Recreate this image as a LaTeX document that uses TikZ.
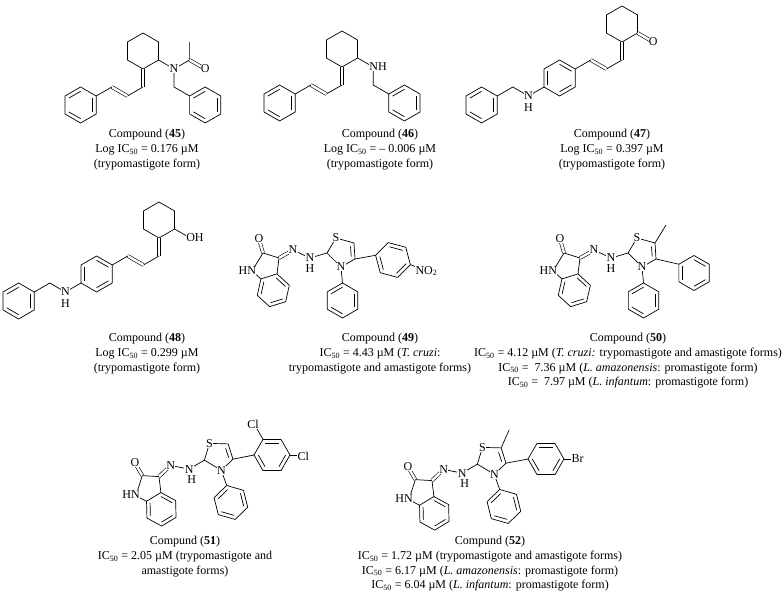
\documentclass[tikz,border=0pt]{standalone}
\usepackage{fontspec}
\setmainfont{Liberation Serif}
\usetikzlibrary{calc}
\tikzset{
  bd/.style={line width=0.7pt, line join=round},
  db/.style={double, double distance=2.4pt, line width=0.6pt},
  atm/.style={fill=white, inner sep=0.3pt, font=\fontsize{12}{12}\selectfont},
  hlab/.style={fill=white, inner sep=0pt, font=\fontsize{12}{12}\selectfont},
  captxt/.style={align=center, font=\fontsize{12}{14.8}\selectfont, inner sep=0, anchor=north},
  core/.pic={
    \coordinate (-o) at (0,0);  \coordinate (-c2) at (4,14);
    \coordinate (-n1) at (-7,32); \coordinate (-c7a) at (2,40);
    \coordinate (-c3a) at (18,35); \coordinate (-c3) at (20,19);
    \coordinate (-na) at (34,11); \coordinate (-nb) at (51,19);
    \coordinate (-ct) at (68,14); \coordinate (-s) at (77,-1);
    \coordinate (-c5) at (95,4); \coordinate (-c4) at (96,20);
    \coordinate (-n3) at (82,28); \coordinate (-ph) at (83.5,44);
    \draw[db] (-c2) -- (-o);
    \draw[bd] (-c2) -- (-n1) -- (-c7a);
    \draw[bd] (-c3a) -- (-c3) -- (-c2);
    \draw[db] (-c3) -- (-na);
    \draw[bd] (-na) -- (-nb) -- (-ct) -- (-s) -- (-c5) -- (-c4) -- (-n3) -- (-ct);
    \draw[bd] (91.5,7.5) -- (92.2,17.5);
    \draw[bd] (-n3) -- (-ph);
    \hexa{14.3}{51.3}{16.8}{42.6}\arom{14.3}{51.3}{16.8}{42.6}{0,2,4}
    \hexa{83.5}{61.5}{17.5}{30}\arom{83.5}{61.5}{17.5}{30}{1,3,5}
    \node[atm] at (-o) {O};
    \node[atm, anchor=east] at ($(-n1)+(4.5,0)$) {HN};
    \node[atm] at (-na) {N};
    \node[atm] at (-nb) {N};
    \node[hlab] at ($(-nb)+(0,11)$) {H};
    \node[atm] at (-s) {S};
    \node[atm] at (-n3) {N};
  }
}
\newcommand\hexa[4]{\draw[bd] ([shift={(#1,#2)}]#4:#3) \foreach \k in {1,...,5}{ -- ([shift={(#1,#2)}]#4+60*\k:#3)} -- cycle;}
\newcommand\arom[5]{\foreach \k in {#5}{\draw[bd] ([shift={(#1,#2)}]#4+60*\k:0.76*#3) -- ([shift={(#1,#2)}]#4+60*\k+60:0.76*#3);}}
\begin{document}
\begin{tikzpicture}[x=1pt,y=-1pt]
\useasboundingbox[fill=white] (0,0) rectangle (784,604);
% ---------- 45
\hexa{143}{51}{18}{30}
\draw[db] (143,69) -- (143,87);
\draw[bd] (143,87) -- (127.4,96);
\draw[db] (127.4,96) -- (111.8,87);
\draw[bd] (111.8,87) -- (96.2,96);
\hexa{80.6}{105}{18}{30}\arom{80.6}{105}{18}{30}{1,3,5}
\coordinate (n45) at (174,69);
\draw[bd] (158.6,60) -- (n45) -- (189.6,60) -- (189.6,42);
\draw[db] (189.6,60) -- (205.2,69);
\draw[bd] (n45) -- (174,87) -- (189.6,96);
\hexa{205.2}{105}{18}{30}\arom{205.2}{105}{18}{30}{1,3,5}
\node[atm] at (n45) {N};
\node[atm] at (205.2,69) {O};
% ---------- 46
\hexa{342}{49}{18}{30}
\draw[db] (342,67) -- (342,85);
\draw[bd] (342,85) -- (326.4,94);
\draw[db] (326.4,94) -- (310.8,85);
\draw[bd] (310.8,85) -- (295.2,94);
\hexa{279.6}{103}{18}{30}\arom{279.6}{103}{18}{30}{1,3,5}
\coordinate (n46) at (373.2,67);
\draw[bd] (357.6,58) -- (n46) -- (373.2,85) -- (388.8,94);
\hexa{404.4}{103}{18}{30}\arom{404.4}{103}{18}{30}{1,3,5}
\node[atm, anchor=west] at ($(n46)+(-4.3,0)$) {NH};
% ---------- 47
\hexa{622}{24}{18}{30}
\draw[db] (637.6,33) -- (653.2,42);
\node[atm] at (653.2,42) {O};
\draw[db] (622,42) -- (622,60);
\draw[bd] (622,60) -- (606.4,69);
\draw[db] (606.4,69) -- (590.8,60);
\draw[bd] (590.8,60) -- (575.2,69);
\hexa{559.6}{78}{18}{30}\arom{559.6}{78}{18}{30}{0,2,4}
\coordinate (n47) at (528.4,96);
\draw[bd] (544,87) -- (n47) -- (512.8,87) -- (497.2,96);
\hexa{481.6}{105}{18}{30}\arom{481.6}{105}{18}{30}{1,3,5}
\node[atm] at (n47) {N};
\node[hlab] at (528.4,107.5) {H};
% ---------- 48
\hexa{159}{220}{18}{30}
\draw[bd] (174.6,229) -- (190.2,238);
\node[atm, anchor=west] at (185.8,238) {OH};
\draw[db] (159,238) -- (159,256);
\draw[bd] (159,256) -- (143.4,265);
\draw[db] (143.4,265) -- (127.8,256);
\draw[bd] (127.8,256) -- (112.2,265);
\hexa{96.6}{274}{18}{30}\arom{96.6}{274}{18}{30}{0,2,4}
\coordinate (n48) at (65.4,292);
\draw[bd] (81,283) -- (n48) -- (49.8,283) -- (34.2,292);
\hexa{18.6}{301}{18}{30}\arom{18.6}{301}{18}{30}{1,3,5}
\node[atm] at (n48) {N};
\node[hlab] at (65.4,303.5) {H};
% ---------- 49
\pic (p49) at (259,239) {core};
\draw[bd] (p49-c4) -- (375.6,255.3);
\hexa{393}{260}{18}{15}\arom{393}{260}{18}{15}{0,2,4}
\draw[bd] (410.4,264.7) -- (419,268);
\node[atm, anchor=west] at (415,271) {NO\textsubscript{2}};
% ---------- 50
\pic (p50) at (560,239) {core};
\draw[bd] (p50-c5) -- ++(11,-18);
\draw[bd] (p50-c4) -- (678.8,264.2);
\hexa{694}{273}{17.5}{30}\arom{694}{273}{17.5}{30}{0,2,4}
% ---------- 51
\pic[rotate=14] (p51) at (135,463) {core};
\draw[bd] (p51-c4) -- (254,455);
\hexa{272}{455}{18}{0}\arom{272}{455}{18}{0}{0,2,4}
\draw[bd] (263,439.4) -- (257,429);
\node[atm] at (253,424) {Cl};
\draw[bd] (290,455) -- (300,455);
\node[atm, anchor=west] at (297,456) {Cl};
% ---------- 52
\pic[rotate=14] (p52) at (408,467) {core};
\draw[bd] (p52-c5) -- ++(8,-18);
\draw[bd] (p52-c4) -- (528,459);
\hexa{546}{459}{18}{0}\arom{546}{459}{18}{0}{0,2,4}
\draw[bd] (564,459) -- (574,459);
\node[atm, anchor=west] at (571,459) {Br};
% ---------- captions
\node[captxt] (t45) at (147,129) {Compound (\textbf{45})\\Log IC\textsubscript{50} = 0.176 µM\\(trypomastigote form)};
\node[captxt] (t46) at (380,129) {Compound (\textbf{46})\\Log IC\textsubscript{50} = – 0.006 µM\\(trypomastigote form)};
\node[captxt] (t47) at (612,129) {Compound (\textbf{47})\\Log IC\textsubscript{50} = 0.397 µM\\(trypomastigote form)};
\node[captxt] (t48) at (147,333) {Compound (\textbf{48})\\Log IC\textsubscript{50} = 0.299 µM\\(trypomastigote form)};
\node[captxt] (t49) at (380,333) {Compound (\textbf{49})\\IC\textsubscript{50} = 4.43 µM (\textit{T. cruzi}:\\trypomastigote and amastigote forms)};
\node[captxt] (t50) at (628,333) {Compound (\textbf{50})\\IC\textsubscript{50} = 4.12 µM (\textit{T. cruzi:} trypomastigote and amastigote forms)\\IC\textsubscript{50} =\ \ 7.36 µM (\textit{L. amazonensis}: promastigote form)\\IC\textsubscript{50} =\ \ 7.97 µM (\textit{L. infantum}: promastigote form)};
\node[captxt] (t51) at (185,536) {Compund (\textbf{51})\\IC\textsubscript{50} = 2.05 µM (trypomastigote and\\amastigote forms)};
\node[captxt] (t52) at (490,536) {Compund (\textbf{52})\\IC\textsubscript{50} = 1.72 µM (trypomastigote and amastigote forms)\\IC\textsubscript{50} = 6.17 µM (\textit{L. amazonensis}: promastigote form)\\IC\textsubscript{50} = 6.04 µM (\textit{L. infantum}: promastigote form)};
\end{tikzpicture}
\end{document}
